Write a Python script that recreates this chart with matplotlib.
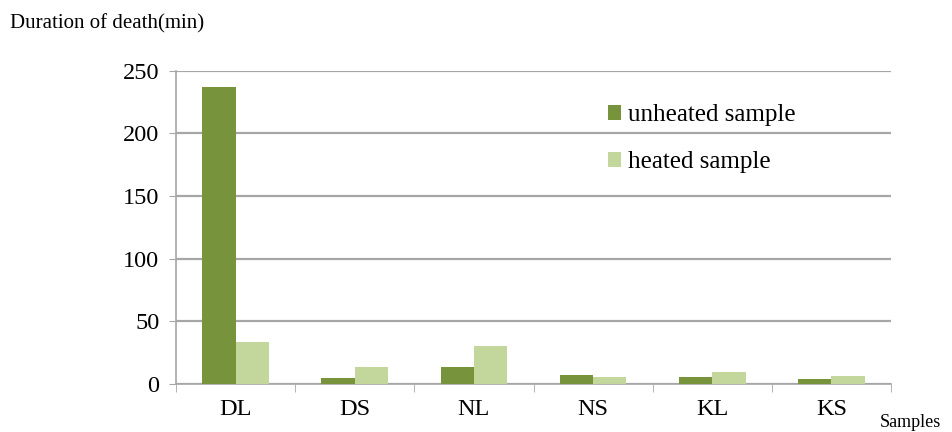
import numpy as np
import matplotlib.pyplot as plt

samples = ['DL', 'DS', 'NL', 'NS', 'KL', 'KS']
unheated = [237, 5, 14, 7.5, 6, 4]
heated = [33.5, 14, 30, 5.5, 9.5, 6.5]
yticks = [0, 50, 100, 150, 200, 250]

plt.rcParams['font.family'] = ['Liberation Serif', 'DejaVu Serif']

fig = plt.figure(figsize=(9.53, 4.32), dpi=100)
ax = fig.add_axes([0.1847, 0.111, 0.7503, 0.725])

x = np.arange(len(samples))
w = 0.28
ax.bar(x - w/2, unheated, w, color='#77933C', label='unheated sample', zorder=3)
ax.bar(x + w/2, heated, w, color='#C3D69B', label='heated sample', zorder=3)

ax.set_xlim(-0.5, len(samples) - 0.5)
ax.set_ylim(0, 250)
ax.set_yticks(yticks)
ax.yaxis.grid(True, color='#a6a6a6', linewidth=1.6, zorder=0)

# category ticks sit between the groups
ax.set_xticks(x)
ax.set_xticklabels(samples, fontsize=17.5)
ax.set_xticks(np.arange(len(samples) + 1) - 0.5, minor=True)
ax.tick_params(axis='x', which='major', length=0, pad=11)
ax.tick_params(axis='x', which='minor', length=6, color='#a6a6a6')
ax.tick_params(axis='y', labelsize=17.5, length=5, color='#a6a6a6', pad=7)

for s in ['top', 'right']:
    ax.spines[s].set_visible(False)
for s in ['left', 'bottom']:
    ax.spines[s].set_color('#a6a6a6')
    ax.spines[s].set_linewidth(1.2)

ax.legend(loc='upper left', bbox_to_anchor=(0.572, 0.965), frameon=False,
          fontsize=18, handlelength=0.55, handleheight=0.55, handletextpad=0.25,
          labelspacing=1.0)

fig.text(0.01, 0.935, 'Duration of death(min)', fontsize=15)
fig.text(0.923, 0.012, 'Samples', fontsize=13)

fig.savefig('out.png', dpi=100, facecolor='white')
